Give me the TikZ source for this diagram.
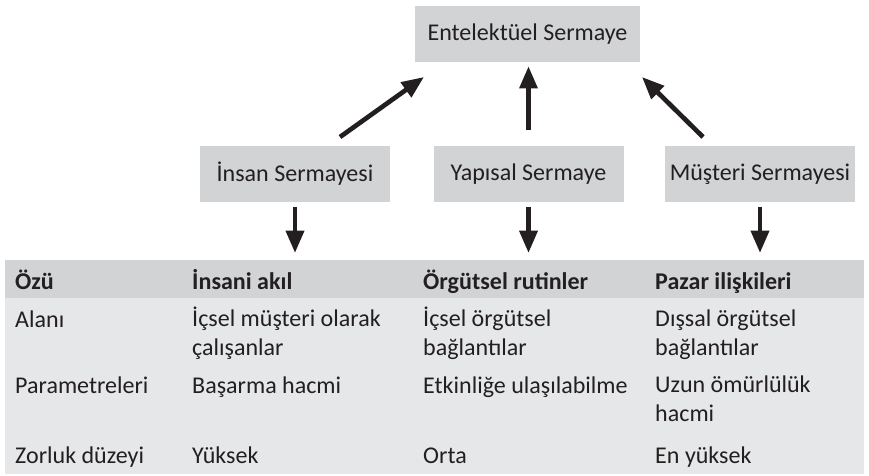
\documentclass[tikz,border=0pt]{standalone}
\usepackage{fontspec}
\setmainfont{Carlito}
\usetikzlibrary{arrows.meta}
\definecolor{boxgray}{HTML}{D1D3D4}
\definecolor{rowgray}{HTML}{E6E7E8}
\definecolor{ink}{HTML}{231F20}

\begin{document}
\begin{tikzpicture}[x=0.03cm, y=-0.03cm,
    every node/.style={font=\fontsize{20.5}{24.2}\selectfont, text=ink},
    kutu/.style={fill=boxgray, minimum width=5.7cm, minimum height=1.68cm, inner sep=0pt},
    hucre/.style={anchor=base west, inner sep=0pt, align=left},
    baslik/.style={hucre, font=\fontsize{20.5}{24.2}\selectfont\bfseries},
    ok/.style={line width=4pt, ink, -{Triangle[length=19pt, width=15pt]}}]
    \useasboundingbox (0,0) rectangle (869,475);

    \node[kutu, minimum width=6.75cm] (ES) at (527.5,34) {Entelektüel Sermaye};
    \node[kutu] (IS) at (295,174) {İnsan Sermayesi};
    \node[kutu] (YS) at (528.5,174) {Yapısal Sermaye};
    \node[kutu] (MS) at (760,174) {Müşteri Sermayesi};

    \fill[rowgray] (5,298) rectangle (864,474);
    \node[fill=boxgray, anchor=north west, minimum width=25.77cm, minimum height=1.14cm, inner sep=0pt] (BAS) at (5,260) {};

    \coordinate (a1) at (340,137);
    \coordinate (a2) at (424,77);
    \coordinate (a3) at (703,137);
    \coordinate (a4) at (642,77);
    \draw[ok] (a1) -- (a2);
    \draw[ok] (a3) -- (a4);
    \draw[ok, shorten <=16*0.03cm, shorten >=4*0.03cm] (YS.north) -- (YS.north |- ES.south);
    \draw[ok, shorten <=5*0.03cm, shorten >=7*0.03cm] (IS.south) -- (IS.south |- BAS.north);
    \draw[ok, shorten <=5*0.03cm, shorten >=7*0.03cm] (YS.south) -- (YS.south |- BAS.north);
    \draw[ok, shorten <=5*0.03cm, shorten >=7*0.03cm] (MS.south) -- (MS.south |- BAS.north);

    \node[baslik] (h1) at (15,289) {Özü};
    \node[baslik] (h2) at (192,289) {İnsani akıl};
    \node[baslik] (h3) at (423,289) {Örgütsel rutinler};
    \node[baslik] (h4) at (655,289) {Pazar ilişkileri};

    \node[hucre] (r11) at (15,327) {Alanı};
    \node[hucre] (r12) at (192,355) {İçsel müşteri olarak\\çalışanlar};
    \node[hucre] (r13) at (423,355) {İçsel örgütsel\\bağlantılar};
    \node[hucre] (r14) at (655,355) {Dışsal örgütsel\\bağlantılar};

    \node[hucre] (r21) at (15,393) {Parametreleri};
    \node[hucre] (r22) at (192,393) {Başarma hacmi};
    \node[hucre] (r23) at (423,393) {Etkinliğe ulaşılabilme};
    \node[hucre] (r24) at (655,421) {Uzun ömürlülük\\hacmi};

    \node[hucre] (r31) at (15,463) {Zorluk düzeyi};
    \node[hucre] (r32) at (192,463) {Yüksek};
    \node[hucre] (r33) at (423,463) {Orta};
    \node[hucre] (r34) at (655,463) {En yüksek};
\end{tikzpicture}
\end{document}
